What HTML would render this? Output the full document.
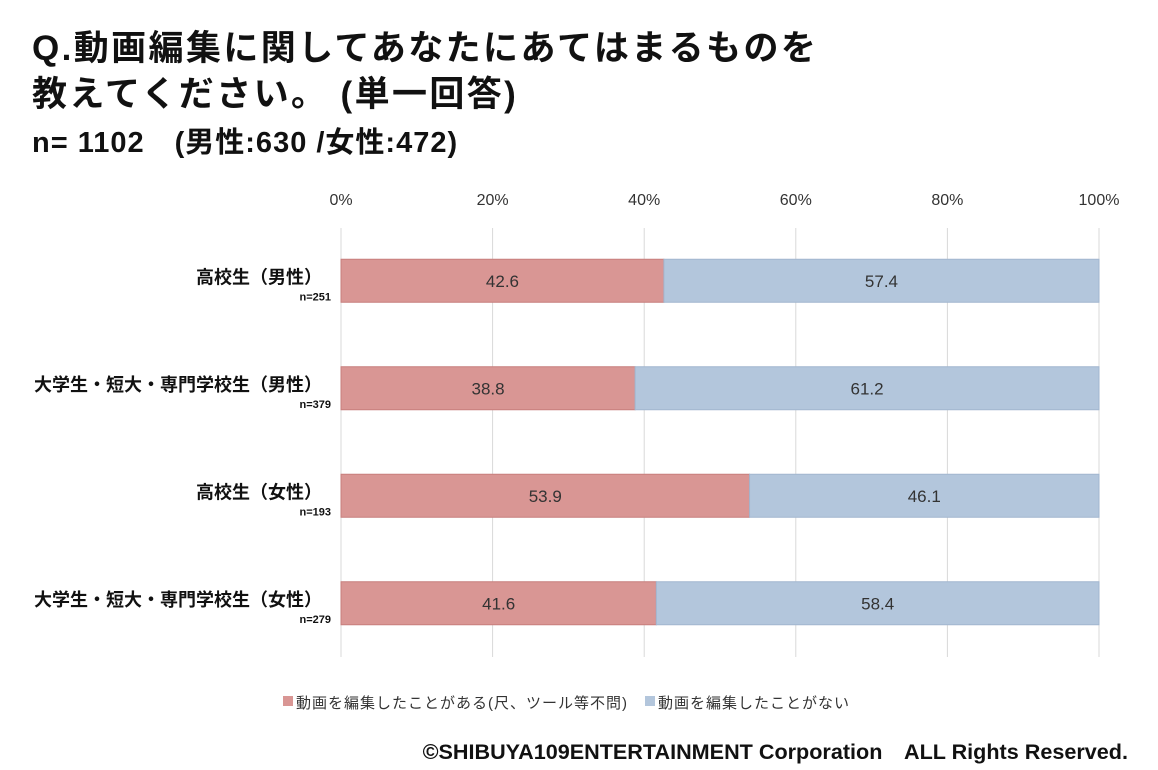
<!DOCTYPE html>
<html><head><meta charset="utf-8">
<style>
body{margin:0;width:1158px;height:770px;background:#fff;overflow:hidden;font-family:"Liberation Sans","Noto Sans CJK JP",sans-serif;}
.t{position:absolute;left:32px;font-weight:bold;color:#111;white-space:nowrap}
</style></head><body>
<div class="t" style="top:20px;font-size:35px;letter-spacing:2.4px">Q.動画編集に関してあなたにあてはまるものを</div>
<div class="t" style="top:66px;font-size:35px;letter-spacing:2.4px">教えてください。 (単一回答)</div>
<div class="t" style="top:119px;font-size:29px;letter-spacing:1px">n= 1102　(男性:630 /女性:472)</div>
<svg id="c" width="1158" height="770" style="position:absolute;left:0;top:0" font-family="Liberation Sans, Noto Sans CJK JP, sans-serif"></svg>
<div style="position:absolute;right:30px;top:735px;font-size:21.6px;font-weight:bold;color:#111">©SHIBUYA109ENTERTAINMENT Corporation　ALL Rights Reserved.</div>
<script>
const categories=["高校生（男性）","大学生・短大・専門学校生（男性）","高校生（女性）","大学生・短大・専門学校生（女性）"];
const sampleLabels=["n=251","n=379","n=193","n=279"];
const edited=[42.6,38.8,53.9,41.6];
const notEdited=[57.4,61.2,46.1,58.4];
const ticks=[0,20,40,60,80,100];
const seriesNames=["動画を編集したことがある(尺、ツール等不問)","動画を編集したことがない"];
const NS="http://www.w3.org/2000/svg";
const svg=document.getElementById('c');
const x0=341,x1=1099,yTop=228,yBot=657,bandTop=226,band=107.5,barH=43;
const X=v=>x0+(x1-x0)*v/100;
const Y=i=>bandTop+band*i+(band-barH)/2+1;
function mk(t,a){const e=document.createElementNS(NS,t);for(const k in a)e.setAttribute(k,a[k]);svg.appendChild(e);return e;}
ticks.forEach(t=>{
 const l=mk('line',{x1:X(t),x2:X(t),y1:yTop,y2:yBot,stroke:'#d9d9d9','stroke-width':1});
 
 
 const tx=mk('text',{x:X(t),y:205,'text-anchor':'middle','font-size':16,fill:'#333'});
 tx.textContent=t+'%';
 
 
});
categories.forEach((c,i)=>{
 const y=Y(i);
 const r1=mk('rect',{x:X(0),y:y,width:X(edited[i])-X(0),height:barH,fill:'#d99694',stroke:'#c77f7d','stroke-width':1});
 
 
 const r2=mk('rect',{x:X(edited[i]),y:y,width:X(edited[i]+notEdited[i])-X(edited[i]),height:barH,fill:'#b3c6dc',stroke:'#a2b6cf','stroke-width':1});
 
 
 const v1=mk('text',{x:(X(0)+X(edited[i]))/2,y:y+barH/2+6,'text-anchor':'middle','font-size':17,fill:'#333'});
 v1.textContent=edited[i].toFixed(1);
 
 
 const v2=mk('text',{x:(X(edited[i])+X(100))/2,y:y+barH/2+6,'text-anchor':'middle','font-size':17,fill:'#333'});
 v2.textContent=notEdited[i].toFixed(1);
 
 
 const cl=mk('text',{x:322,y:y+24,'text-anchor':'end','font-size':18,'font-weight':'bold',fill:'#111'});
 cl.textContent=c;
 
 
 const nl=mk('text',{x:331,y:y+41,'text-anchor':'end','font-size':11,'font-weight':'bold',fill:'#111'});
 nl.textContent=sampleLabels[i];
 
 
});
const legX=[283,645],legC=['#d99694','#b3c6dc'];
seriesNames.forEach((s,i)=>{
 const r=mk('rect',{x:legX[i],y:696,width:10,height:10,fill:legC[i]});
 
 
 const t=mk('text',{x:legX[i]+13,y:708,'font-size':15,'letter-spacing':1,fill:'#333'});
 t.textContent=s;
 
 
});
</script>
</body></html>
